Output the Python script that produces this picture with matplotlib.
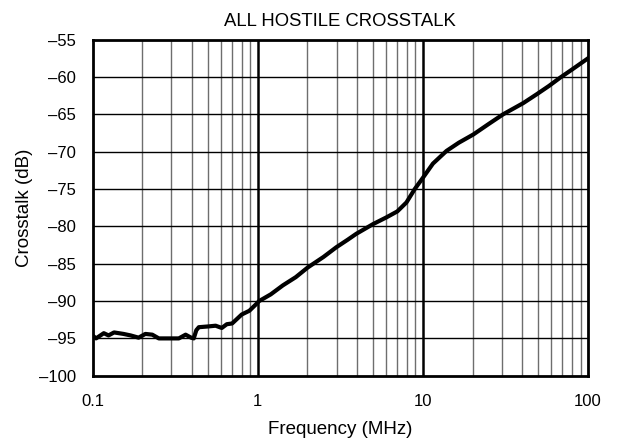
import matplotlib
matplotlib.use("Agg")
import matplotlib.pyplot as plt
import numpy as np

plt.rcParams['font.family'] = ['Liberation Sans', 'DejaVu Sans']

freq_mhz = [0.1, 0.105, 0.117, 0.125, 0.135, 0.154, 0.17, 0.19, 0.209, 0.23, 0.252,
            0.29, 0.333, 0.366, 0.395, 0.41, 0.425, 0.44, 0.5, 0.556, 0.606, 0.65,
            0.7, 0.8, 0.89, 0.98, 1.02, 1.2, 1.42, 1.7, 2.01, 2.5, 2.99, 3.5, 3.95,
            4.99, 6.01, 7.0, 7.95, 8.93, 10.0, 11.5, 13.9, 16.5, 20.2, 25.0, 30.6,
            40.5, 49.0, 58.0, 67.7, 80.0, 100.0]
crosstalk_db = [-94.6, -95.0, -94.3, -94.6, -94.2, -94.4, -94.6, -94.9, -94.4, -94.5, -95.0,
                -95.0, -95.0, -94.5, -94.9, -95.0, -93.9, -93.5, -93.4, -93.3, -93.6, -93.1,
                -93.0, -91.8, -91.3, -90.4, -90.0, -89.1, -87.9, -86.8, -85.5, -84.1, -82.8, -81.8, -81.0,
                -79.7, -78.8, -78.0, -76.8, -75.0, -73.5, -71.6, -69.9, -68.8, -67.7, -66.3, -65.0,
                -63.5, -62.3, -61.2, -60.1, -59.0, -57.5]

x_ticks = [0.1, 1, 10, 100]
x_tick_labels = ['0.1', '1', '10', '100']
y_ticks = [-100, -95, -90, -85, -80, -75, -70, -65, -60, -55]

fig = plt.figure(figsize=(6.21, 4.40), dpi=100)
ax = fig.add_axes([0.149, 0.146, 0.798, 0.764])

ax.set_xscale('log')
ax.set_xlim(0.1, 100)
ax.set_ylim(-100, -55)

# grid
minor = [m * d for d in [0.1, 1, 10] for m in range(2, 10)]
for v in minor:
    ax.axvline(v, color='#6e6e6e', lw=1.0, zorder=1)
for v in [1, 10]:
    ax.axvline(v, color='black', lw=1.8, zorder=1)
for v in y_ticks[1:-1]:
    ax.axhline(v, color='black', lw=1.0, zorder=1)

ax.plot(freq_mhz, crosstalk_db, color='black', lw=3.0, zorder=3, solid_joinstyle='round')

ax.set_xticks(x_ticks)
ax.set_xticklabels(x_tick_labels)
ax.set_xticks([], minor=True)
ax.set_yticks(y_ticks)
ax.set_yticklabels([str(v).replace('-', '\u2013') for v in y_ticks])
ax.tick_params(axis='x', which='both', length=0, labelsize=12, pad=13, colors='black')
ax.tick_params(axis='y', which='both', length=0, labelsize=12, pad=12, colors='black')

for s in ax.spines.values():
    s.set_linewidth(2.0)
    s.set_color('black')
    s.set_zorder(4)

ax.set_title('ALL HOSTILE CROSSTALK', fontsize=13.3, pad=10)
ax.set_xlabel('Frequency (MHz)', fontsize=13.5, labelpad=9)
ax.set_ylabel('Crosstalk (dB)', fontsize=13.5, labelpad=4)

fig.savefig('out.png', dpi=100)
